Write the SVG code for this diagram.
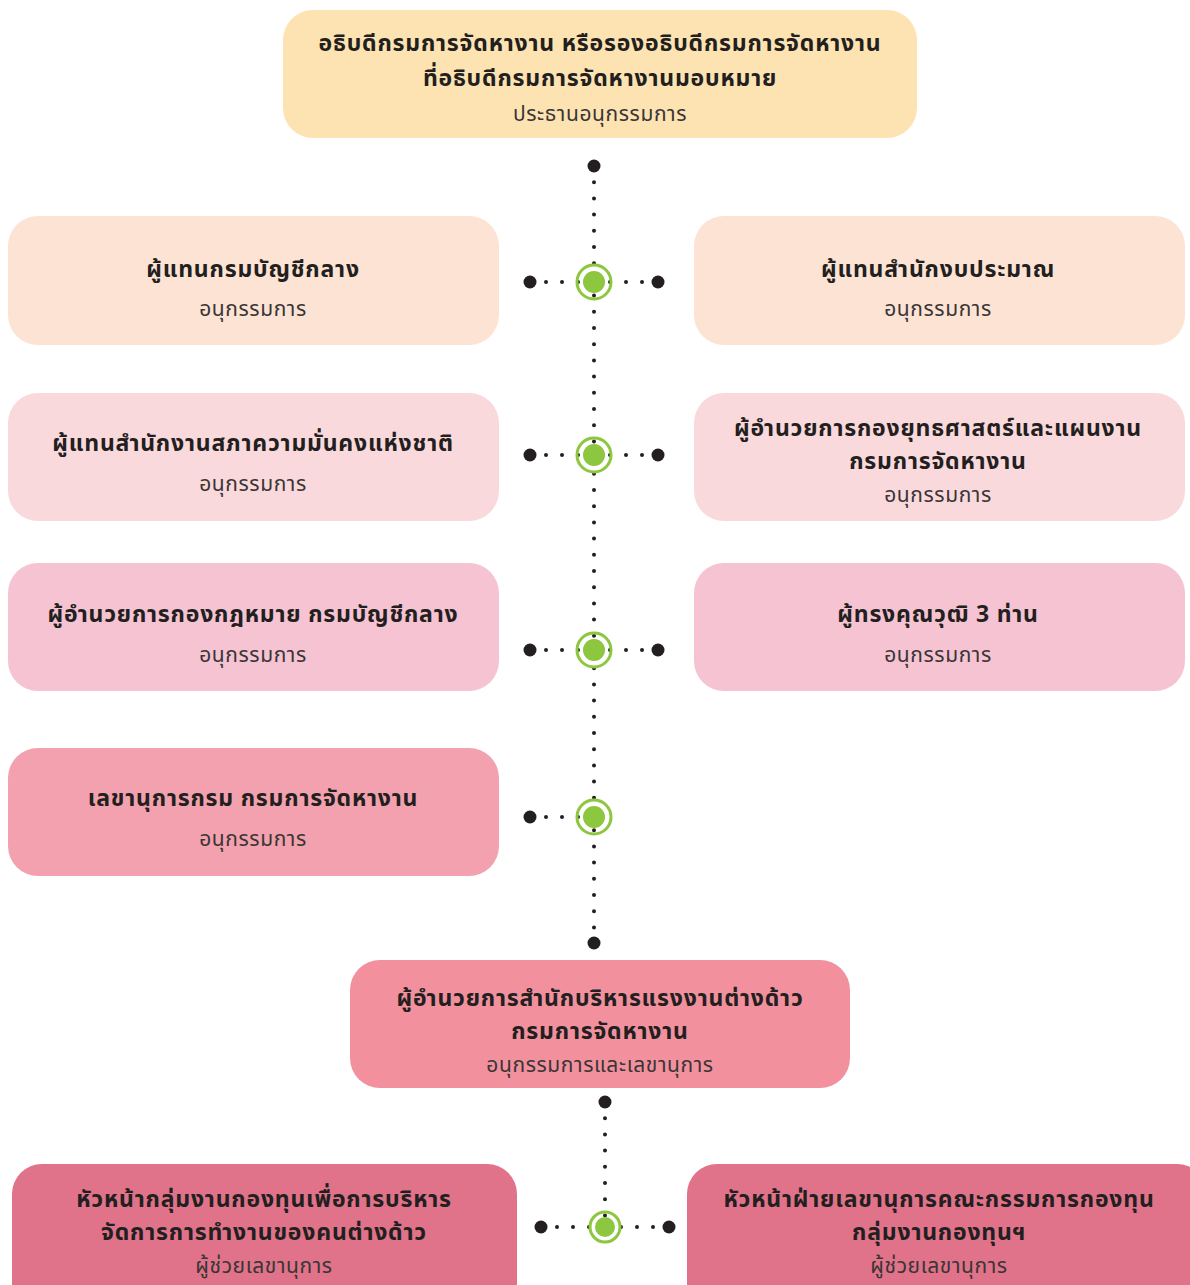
<svg xmlns="http://www.w3.org/2000/svg" width="1190" height="1285" viewBox="0 0 1190 1285">
<style>
.t{font-family:"Noto Sans Thai","Noto Sans","DejaVu Sans",sans-serif;font-weight:bold;font-size:23px;letter-spacing:0.8px;fill:#231f20;text-anchor:middle}
.s{font-family:"Noto Sans Thai","Noto Sans","DejaVu Sans",sans-serif;font-weight:normal;font-size:21px;letter-spacing:0.6px;fill:#3a3536;text-anchor:middle}
.bd{fill:#231f20}
.ring{fill:none;stroke:#8dc63f;stroke-width:3}
.core{fill:#8dc63f}
.dv{stroke:#231f20;stroke-width:4;stroke-linecap:round;fill:none}
</style>
<rect width="1190" height="1285" fill="#ffffff"/>
<g id="connectors">
<line class="dv" x1="594" y1="166" x2="594" y2="943" stroke-dasharray="0 16.2"/>
<line class="dv" x1="530" y1="282" x2="658" y2="282" stroke-dasharray="0 16"/>
<line class="dv" x1="530" y1="455" x2="658" y2="455" stroke-dasharray="0 16"/>
<line class="dv" x1="530" y1="650" x2="658" y2="650" stroke-dasharray="0 16"/>
<line class="dv" x1="530" y1="817" x2="594" y2="817" stroke-dasharray="0 16"/>
<line class="dv" x1="605" y1="1102" x2="605" y2="1227" stroke-dasharray="0 16.2"/>
<line class="dv" x1="541" y1="1227" x2="669" y2="1227" stroke-dasharray="0 16"/>
<circle class="bd" cx="594" cy="166" r="6.5"/>
<circle class="bd" cx="594" cy="943" r="6.5"/>
<circle class="bd" cx="605" cy="1102" r="6.5"/>
<circle class="bd" cx="530" cy="282" r="6.5"/><circle class="bd" cx="658" cy="282" r="6.5"/>
<circle class="bd" cx="530" cy="455" r="6.5"/><circle class="bd" cx="658" cy="455" r="6.5"/>
<circle class="bd" cx="530" cy="650" r="6.5"/><circle class="bd" cx="658" cy="650" r="6.5"/>
<circle class="bd" cx="530" cy="817" r="6.5"/>
<circle class="bd" cx="541" cy="1227" r="6.5"/><circle class="bd" cx="669" cy="1227" r="6.5"/>
<circle class="ring" cx="594" cy="282" r="17"/><circle class="core" cx="594" cy="282" r="11"/>
<circle class="ring" cx="594" cy="455" r="17"/><circle class="core" cx="594" cy="455" r="11"/>
<circle class="ring" cx="594" cy="650" r="17"/><circle class="core" cx="594" cy="650" r="11"/>
<circle class="ring" cx="594" cy="817" r="17"/><circle class="core" cx="594" cy="817" r="11"/>
<circle class="ring" cx="605" cy="1227" r="15"/><circle class="core" cx="605" cy="1227" r="10"/>
</g>
<g id="n-chair">
<rect x="283" y="10" width="634" height="128" rx="30" fill="#fde3b1"/>
<text class="t" x="600" y="51">อธิบดีกรมการจัดหางาน หรือรองอธิบดีกรมการจัดหางาน</text>
<text class="t" x="600" y="86">ที่อธิบดีกรมการจัดหางานมอบหมาย</text>
<text class="s" x="600" y="121">ประธานอนุกรรมการ</text>
</g>
<g id="n-cgd">
<rect x="8" y="216" width="491" height="129" rx="30" fill="#fde3d4"/>
<text class="t" x="253" y="277">ผู้แทนกรมบัญชีกลาง</text>
<text class="s" x="253" y="316">อนุกรรมการ</text>
</g>
<g id="n-budget">
<rect x="694" y="216" width="491" height="129" rx="30" fill="#fde3d4"/>
<text class="t" x="938" y="277">ผู้แทนสำนักงบประมาณ</text>
<text class="s" x="938" y="316">อนุกรรมการ</text>
</g>
<g id="n-nsc">
<rect x="8" y="393" width="491" height="128" rx="30" fill="#fad9dc"/>
<text class="t" x="253" y="451">ผู้แทนสำนักงานสภาความมั่นคงแห่งชาติ</text>
<text class="s" x="253" y="491">อนุกรรมการ</text>
</g>
<g id="n-strategy">
<rect x="694" y="393" width="491" height="128" rx="30" fill="#fad9dc"/>
<text class="t" x="938" y="436">ผู้อำนวยการกองยุทธศาสตร์และแผนงาน</text>
<text class="t" x="938" y="469">กรมการจัดหางาน</text>
<text class="s" x="938" y="502">อนุกรรมการ</text>
</g>
<g id="n-legal">
<rect x="8" y="563" width="491" height="128" rx="30" fill="#f5c3d2"/>
<text class="t" x="253" y="622">ผู้อำนวยการกองกฎหมาย กรมบัญชีกลาง</text>
<text class="s" x="253" y="662">อนุกรรมการ</text>
</g>
<g id="n-experts">
<rect x="694" y="563" width="491" height="128" rx="30" fill="#f5c3d2"/>
<text class="t" x="938" y="622">ผู้ทรงคุณวุฒิ 3 ท่าน</text>
<text class="s" x="938" y="662">อนุกรรมการ</text>
</g>
<g id="n-secdept">
<rect x="8" y="748" width="491" height="128" rx="30" fill="#f3a1ae"/>
<text class="t" x="253" y="806">เลขานุการกรม กรมการจัดหางาน</text>
<text class="s" x="253" y="846">อนุกรรมการ</text>
</g>
<g id="n-secretary">
<rect x="350" y="960" width="500" height="128" rx="30" fill="#f2919d"/>
<text class="t" x="600" y="1006">ผู้อำนวยการสำนักบริหารแรงงานต่างด้าว</text>
<text class="t" x="600" y="1039">กรมการจัดหางาน</text>
<text class="s" x="600" y="1072">อนุกรรมการและเลขานุการ</text>
</g>
<g id="n-fund-head">
<rect x="12" y="1164" width="505" height="160" rx="30" fill="#e07389"/>
<text class="t" x="264" y="1207">หัวหน้ากลุ่มงานกองทุนเพื่อการบริหาร</text>
<text class="t" x="264" y="1240">จัดการการทำงานของคนต่างด้าว</text>
<text class="s" x="264" y="1273">ผู้ช่วยเลขานุการ</text>
</g>
<g id="n-fund-sec">
<rect x="687" y="1164" width="520" height="160" rx="30" fill="#e07389"/>
<text class="t" x="939" y="1207">หัวหน้าฝ่ายเลขานุการคณะกรรมการกองทุน</text>
<text class="t" x="939" y="1240">กลุ่มงานกองทุนฯ</text>
<text class="s" x="939" y="1273">ผู้ช่วยเลขานุการ</text>
</g>
</svg>
